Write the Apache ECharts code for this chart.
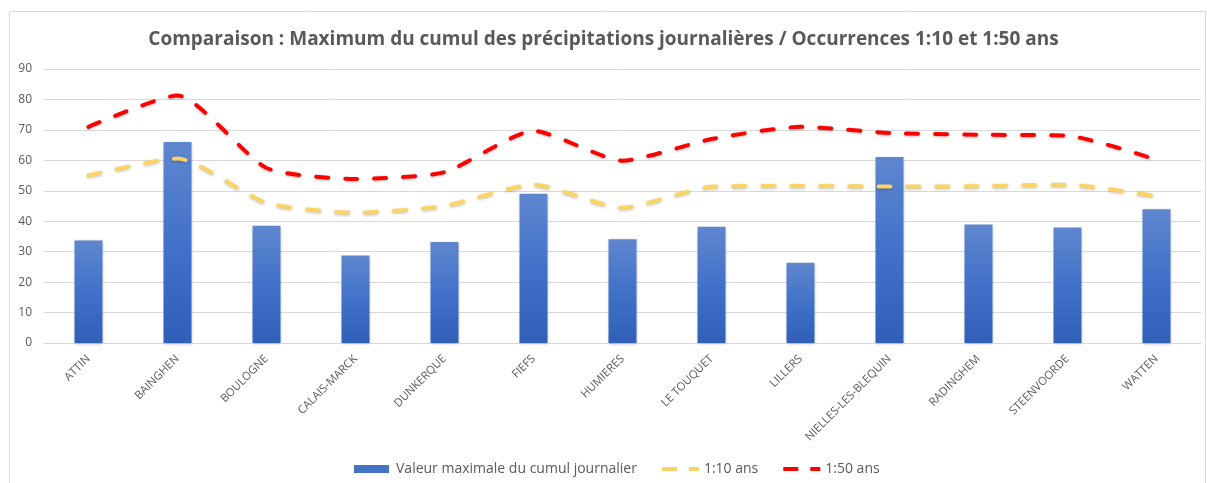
<!DOCTYPE html>
<html>
<head>
    <meta charset="utf-8"/>
    <script src="https://cdn.jsdelivr.net/npm/echarts@6/dist/echarts.min.js"></script>
    <style>
        html, body { margin: 0; padding: 0; background: #fff; }
        #main { width: 1207px; height: 483px; }
    </style>
</head>
<body>
<div id="main"></div>
<script type="text/javascript">
    // stations
    var stations = ['ATTIN', 'BAINGHEN', 'BOULOGNE', 'CALAIS-MARCK', 'DUNKERQUE', 'FIEFS', 'HUMIERES',
        'LE TOUQUET', 'LILLERS', 'NIELLES-LES-BLEQUIN', 'RADINGHEM', 'STEENVOORDE', 'WATTEN'];
    // valeur maximale du cumul journalier (mm)
    var maxCumul = [33.7, 66, 38.5, 28.7, 33.2, 49, 34.1, 38.2, 26.4, 61.1, 38.9, 37.9, 43.9];
    // occurrence 1:10 ans
    var occ10 = [55, 60.6, 46, 42.8, 45, 52, 44.4, 51.3, 51.6, 51.4, 51.5, 52, 48.2];
    // occurrence 1:50 ans
    var occ50 = [71, 81.3, 57.5, 53.9, 56.1, 69.7, 59.9, 67, 71, 69, 68.4, 68.1, 60.2];

    var myChart = echarts.init(document.getElementById('main'));
    var grey = '#595959';
    var font = 'Open Sans';
    // legend icons share a 37x8 box (tiny corner squares fix the box)
    var corners = 'M0 0h0.05v0.05h-0.05z M37 8h-0.05v-0.05h0.05z ';
    var rectIcon = 'path://' + corners + 'M0 0h35v8h-35z';
    var dashIcon = 'path://' + corners + 'M0 2h15v4h-15z M27 2h10v4h-10z';

    var option = {
        backgroundColor: '#fff',
        animation: false,
        textStyle: { fontFamily: font },
        graphic: [{
            type: 'rect',
            shape: { x: 9.5, y: 11.5, width: 1196, height: 480 },
            style: { fill: 'none', stroke: '#d9d9d9', lineWidth: 1 },
            silent: true, z: -1
        }],
        title: {
            text: 'Comparaison : Maximum du cumul des précipitations journalières / Occurrences 1:10 et 1:50 ans',
            left: 'center',
            top: 25,
            textStyle: { color: grey, fontSize: 19, fontWeight: 'bold', fontFamily: font }
        },
        legend: {
            bottom: 2,
            left: 349,
            itemGap: 25,
            itemWidth: 37,
            itemHeight: 8,
            textStyle: { color: grey, fontSize: 14, fontFamily: font },
            data: [
                { name: 'Valeur maximale du cumul journalier', icon: rectIcon, itemStyle: { color: '#4472c4' } },
                { name: '1:10 ans', icon: dashIcon },
                { name: '1:50 ans', icon: dashIcon }
            ]
        },
        grid: { left: 44, right: 6, top: 69, bottom: 140 },
        xAxis: {
            type: 'category',
            data: stations,
            boundaryGap: true,
            axisLine: { lineStyle: { color: '#d9d9d9' } },
            axisTick: { show: false },
            axisLabel: { rotate: 45, color: grey, fontSize: 11.3, fontFamily: font, margin: 14 }
        },
        yAxis: {
            type: 'value',
            min: 0,
            max: 90,
            interval: 10,
            axisLine: { show: false },
            axisTick: { show: false },
            axisLabel: { color: grey, fontSize: 12, fontFamily: font, margin: 12 },
            splitLine: { lineStyle: { color: '#d9d9d9' } }
        },
        series: [{
            name: 'Valeur maximale du cumul journalier',
            type: 'bar',
            data: maxCumul,
            barWidth: 28,
            itemStyle: {
                color: new echarts.graphic.LinearGradient(0, 0, 0, 1, [
                    { offset: 0, color: '#5f87cf' },
                    { offset: 0.5, color: '#4271c9' },
                    { offset: 1, color: '#2f5fb7' }
                ]),
                shadowColor: 'rgba(0,0,0,0.25)',
                shadowBlur: 3,
                shadowOffsetY: 1
            }
        }, {
            name: '1:10 ans',
            type: 'line',
            data: occ10,
            smooth: 0.2,
            symbol: 'none',
            itemStyle: { color: '#fbd463' },
            lineStyle: {
                color: '#fbd463', width: 4, type: [12, 17], cap: 'round',
                shadowColor: 'rgba(0,0,0,0.25)', shadowBlur: 3, shadowOffsetY: 1
            }
        }, {
            name: '1:50 ans',
            type: 'line',
            data: occ50,
            smooth: 0.2,
            symbol: 'none',
            itemStyle: { color: '#ff0000' },
            lineStyle: {
                color: '#ff0000', width: 4, type: [12, 17], cap: 'round',
                shadowColor: 'rgba(0,0,0,0.25)', shadowBlur: 3, shadowOffsetY: 1
            }
        }]
    };
    myChart.setOption(option);
</script>
</body>
</html>
